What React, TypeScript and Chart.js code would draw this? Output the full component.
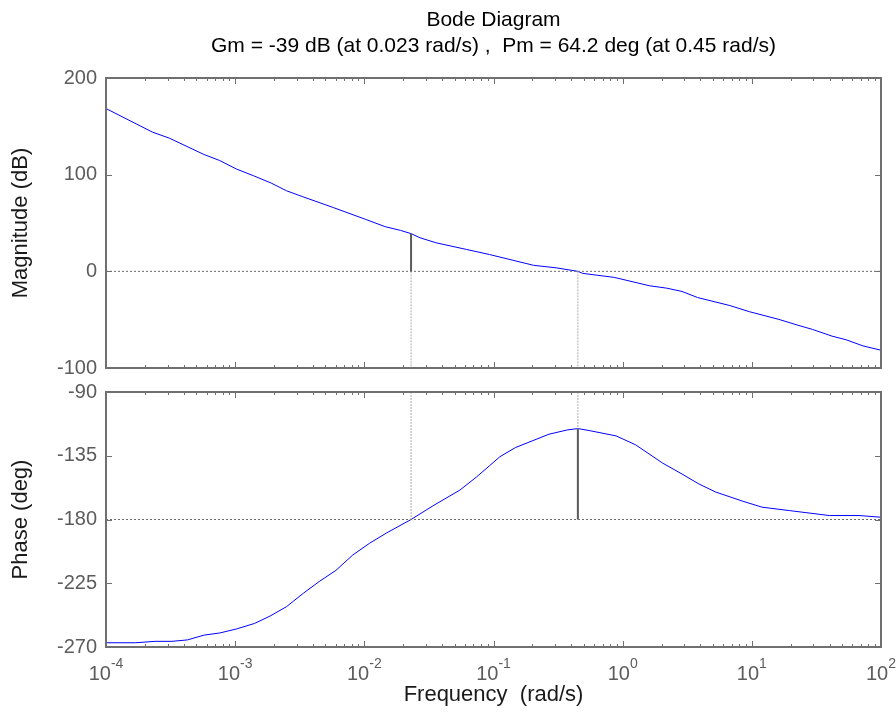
import React, { useEffect, useRef } from 'react';
import { Chart, registerables } from 'chart.js';
Chart.register(...registerables);

// ---------- data ----------
const titleText = 'Bode Diagram';
const subtitleText = 'Gm = -39 dB (at 0.023 rad/s) ,  Pm = 64.2 deg (at 0.45 rad/s)';
const magLabel = 'Magnitude (dB)';
const phaseLabel = 'Phase (deg)';
const freqLabel = 'Frequency  (rad/s)';

const magFreq = [1e-4, 2.29e-4, 3.09e-4, 5.75e-4, 7.6e-4, 1.02e-3, 1.38e-3, 1.9e-3, 2.5e-3, 3.3e-3, 5.75e-3, 0.0102, 0.0145, 0.019, 0.023, 0.027, 0.036, 0.062, 0.093, 0.204, 0.31, 0.45, 0.49, 0.86, 1.61, 2.19, 2.88, 3.8, 6.76, 9.55, 16.2, 22.4, 29.5, 41.7, 53.7, 72.4, 100];
const magDb = [168.4, 144, 137.8, 120.8, 114.6, 105.9, 99, 91.3, 83.3, 77.4, 66, 53.8, 46.2, 42.4, 39, 34.7, 29.5, 22.6, 17.4, 6.25, 3.5, 0, -2.1, -6.25, -14.9, -17.4, -20.8, -27.1, -35.4, -41.7, -49.7, -55.5, -60.1, -67, -70.8, -77.1, -81.6];

const phaseFreq = [1e-4, 1.7e-4, 2.4e-4, 3.24e-4, 4.27e-4, 5.75e-4, 7.6e-4, 1.02e-3, 1.41e-3, 1.86e-3, 2.5e-3, 3.39e-3, 4.47e-3, 6.03e-3, 8.13e-3, 0.011, 0.0148, 0.023, 0.0339, 0.055, 0.0741, 0.0933, 0.112, 0.148, 0.269, 0.372, 0.45, 0.55, 0.89, 1.26, 2.04, 2.88, 3.89, 5.25, 8.51, 12, 19.5, 39.8, 67.6, 100];
const phaseDeg = [-267, -267, -266, -266, -265, -261.6, -260.1, -257.3, -253.4, -248.2, -241.5, -231.9, -223.8, -215.9, -205.1, -196.7, -189.6, -180, -170.4, -159.2, -149.9, -142, -135.7, -129.2, -119.8, -116.8, -115.8, -117.2, -121, -127.3, -140.2, -147.9, -154.9, -160.6, -167.1, -171.3, -173.7, -177.2, -177.2, -178.4];

const gmFreq = 0.023;
const gmMag = 39;
const pmFreq = 0.45;
const pmPhase = -115.8;

const freqMin = 1e-4;
const freqMax = 1e2;
const magMin = -100;
const magMax = 200;
const magStep = 100;
const phaseMin = -270;
const phaseMax = -90;
const phaseStep = 45;
const refMag = 0;
const refPhase = -180;

const xTickBase = '10';
const xTickExps = ['-4', '-3', '-2', '-1', '0', '1', '2'];

// ---------- style ----------
const FONT = "'Liberation Sans', Arial, Helvetica, sans-serif";
const TICK_COLOR = '#5c5c5c';
const AXIS_COLOR = '#707070';
const LABEL_COLOR = '#1a1a1a';
const CURVE = '#0000ff';

Chart.defaults.font.family = FONT;

const titlePlugin = {
  id: 'bodeTitle',
  afterDraw(chart: any) {
    const { ctx, chartArea: a } = chart;
    const cx = (a.left + a.right) / 2;
    ctx.save();
    ctx.fillStyle = '#000';
    ctx.textAlign = 'center';
    ctx.textBaseline = 'middle';
    ctx.font = `21px ${FONT}`;
    ctx.fillText(titleText, cx, 20);
    ctx.fillText(subtitleText, cx, 46);
    ctx.restore();
  },
};

const framePlugin = {
  id: 'frame',
  afterDatasetsDraw(chart: any) {
    const { ctx, chartArea: a, scales } = chart;
    const xs = scales.x;
    const ys = scales.y;
    ctx.save();
    ctx.strokeStyle = AXIS_COLOR;
    ctx.lineWidth = 1;
    const seg = (x1: number, y1: number, x2: number, y2: number) => {
      ctx.beginPath();
      ctx.moveTo(x1, y1);
      ctx.lineTo(x2, y2);
      ctx.stroke();
    };
    for (let e = -4; e <= 2; e++) {
      for (let k = 1; k <= 9; k++) {
        if (e === 2 && k > 1) break;
        const v = k * Math.pow(10, e);
        const px = Math.round(xs.getPixelForValue(v)) + 0.5;
        const len = k === 1 ? 6 : 3;
        seg(px, a.top, px, a.top + len);
        seg(px, a.bottom, px, a.bottom - len);
      }
    }
    ys.ticks.forEach((t: any) => {
      const py = Math.round(ys.getPixelForValue(t.value)) + 0.5;
      seg(a.left, py, a.left + 6, py);
      seg(a.right, py, a.right - 6, py);
    });
    ctx.lineWidth = 2;
    ctx.strokeRect(Math.round(a.left), Math.round(a.top), Math.round(a.right - a.left), Math.round(a.bottom - a.top));
    ctx.restore();
  },
};

const xLabelPlugin = {
  id: 'xlabels',
  afterDraw(chart: any) {
    const { ctx, chartArea: a, scales } = chart;
    const xs = scales.x;
    ctx.save();
    ctx.fillStyle = TICK_COLOR;
    ctx.textBaseline = 'alphabetic';
    ctx.textAlign = 'left';
    xTickExps.forEach((ex) => {
      const px = xs.getPixelForValue(Math.pow(10, Number(ex)));
      ctx.font = `20px ${FONT}`;
      const w1 = ctx.measureText(xTickBase).width;
      ctx.font = `14px ${FONT}`;
      const w2 = ctx.measureText(ex).width;
      const sx = px - (w1 + w2) / 2;
      const base = a.bottom + 33;
      ctx.font = `20px ${FONT}`;
      ctx.fillText(xTickBase, sx, base);
      ctx.font = `14px ${FONT}`;
      ctx.fillText(ex, sx + w1, base - 12);
    });
    ctx.restore();
  },
};

function pts(xs: number[], ys: number[]) {
  return xs.map((x, i) => ({ x, y: ys[i] }));
}

function refLine(data: any[], color: string, width: number, dash: number[]) {
  return {
    data,
    borderColor: color,
    borderWidth: width,
    borderDash: dash,
    pointRadius: 0,
    showLine: true,
    fill: false,
  };
}

function yAxis(min: number, max: number, step: number, label: string) {
  return {
    type: 'linear',
    min,
    max,
    afterFit(scale: any) {
      scale.width = 106;
      scale.paddingTop = 0;
      scale.paddingBottom = 0;
    },
    ticks: {
      stepSize: step,
      color: TICK_COLOR,
      font: { size: 20 },
      padding: 9,
    },
    grid: { display: false, drawTicks: false },
    border: { display: false },
    title: {
      display: true,
      text: label,
      color: LABEL_COLOR,
      font: { size: 22 },
      padding: { top: 8, bottom: 0 },
    },
  };
}

export default function App() {
  const topRef = useRef<HTMLCanvasElement>(null);
  const botRef = useRef<HTMLCanvasElement>(null);

  useEffect(() => {
    const top = new Chart(topRef.current as HTMLCanvasElement, {
      type: 'scatter',
      data: {
        datasets: [
          refLine([{ x: freqMin, y: refMag }, { x: freqMax, y: refMag }], '#6a6a6a', 1, [2, 2]),
          refLine([{ x: gmFreq, y: refMag }, { x: gmFreq, y: magMin }], '#b0b0b0', 1, [2, 1]),
          refLine([{ x: pmFreq, y: refMag }, { x: pmFreq, y: magMin }], '#b0b0b0', 1, [2, 1]),
          refLine([{ x: gmFreq, y: refMag }, { x: gmFreq, y: gmMag }], '#5a5a5a', 2, []),
          {
            data: pts(magFreq, magDb),
            borderColor: CURVE,
            borderWidth: 1,
            pointRadius: 0,
            showLine: true,
            fill: false,
          },
        ],
      } as any,
      options: {
        animation: false,
        responsive: false,
        maintainAspectRatio: false,
        layout: { padding: { left: 0, right: 15, top: 78, bottom: 12 } },
        plugins: {
          legend: { display: false },
          tooltip: { enabled: false },
          title: { display: false },
        },
        scales: {
          x: { type: 'logarithmic', min: freqMin, max: freqMax, display: false },
          y: yAxis(magMin, magMax, magStep, magLabel) as any,
        },
      } as any,
      plugins: [framePlugin, titlePlugin],
    });

    const bot = new Chart(botRef.current as HTMLCanvasElement, {
      type: 'scatter',
      data: {
        datasets: [
          refLine([{ x: freqMin, y: refPhase }, { x: freqMax, y: refPhase }], '#6a6a6a', 1, [2, 2]),
          refLine([{ x: gmFreq, y: phaseMax }, { x: gmFreq, y: refPhase }], '#b0b0b0', 1, [2, 1]),
          refLine([{ x: pmFreq, y: phaseMax }, { x: pmFreq, y: pmPhase }], '#b0b0b0', 1, [2, 1]),
          refLine([{ x: pmFreq, y: pmPhase }, { x: pmFreq, y: refPhase }], '#5a5a5a', 2, []),
          {
            data: pts(phaseFreq, phaseDeg),
            borderColor: CURVE,
            borderWidth: 1,
            pointRadius: 0,
            showLine: true,
            fill: false,
          },
        ],
      } as any,
      options: {
        animation: false,
        responsive: false,
        maintainAspectRatio: false,
        layout: { padding: { left: 0, right: 15, top: 12, bottom: 0 } },
        plugins: {
          legend: { display: false },
          tooltip: { enabled: false },
        },
        scales: {
          x: {
            type: 'logarithmic',
            min: freqMin,
            max: freqMax,
            afterFit(scale: any) {
              scale.height = 74;
              scale.paddingLeft = 0;
              scale.paddingRight = 0;
            },
            ticks: { display: false },
            grid: { display: false, drawTicks: false },
            border: { display: false },
            title: {
              display: true,
              text: freqLabel,
              color: LABEL_COLOR,
              font: { size: 22 },
              padding: { top: 0, bottom: 13 },
            },
          },
          y: yAxis(phaseMin, phaseMax, phaseStep, phaseLabel) as any,
        },
      } as any,
      plugins: [framePlugin, xLabelPlugin],
    });

    return () => {
      top.destroy();
      bot.destroy();
    };
  }, []);

  return (
    <div style={{ position: 'absolute', left: 0, top: 0, width: 896, height: 721, background: '#fff' }}>
      <canvas ref={topRef} width={896} height={380} style={{ position: 'absolute', left: 0, top: 0, width: 896, height: 380 }} />
      <canvas ref={botRef} width={896} height={341} style={{ position: 'absolute', left: 0, top: 380, width: 896, height: 341 }} />
    </div>
  );
}
